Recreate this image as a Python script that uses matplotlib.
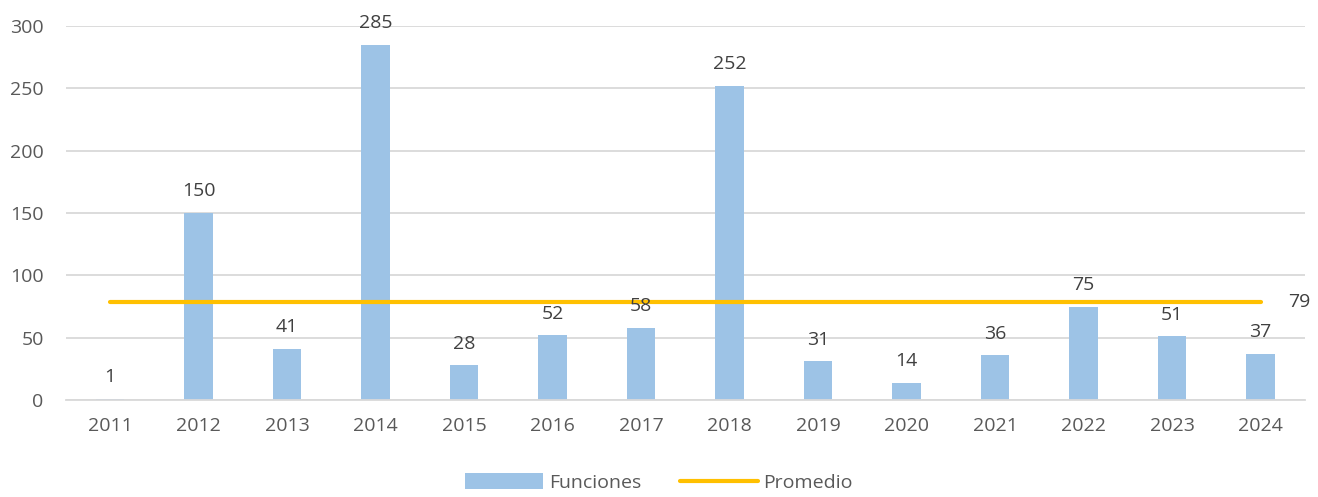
import matplotlib
matplotlib.use('Agg')
import matplotlib.pyplot as plt
import numpy as np

years = ['2011', '2012', '2013', '2014', '2015', '2016', '2017',
         '2018', '2019', '2020', '2021', '2022', '2023', '2024']
funciones = [1, 150, 41, 285, 28, 52, 58, 252, 31, 14, 36, 75, 51, 37]
promedio = 79

bar_color = '#9DC3E6'
line_color = '#FFC000'
text_color = '#595959'

plt.rcParams['font.family'] = ['Open Sans', 'DejaVu Sans']

fig = plt.figure(figsize=(13.18, 4.97), dpi=100)
ax = fig.add_axes([0.050, 0.195, 0.940, 0.753])

x = np.arange(len(years))
bars = ax.bar(x, funciones, width=0.32, color=bar_color, label='Funciones', zorder=2)
line, = ax.plot(x, [promedio] * len(x), color=line_color, lw=3, label='Promedio',
                solid_capstyle='round', zorder=3)

for xi, v in zip(x, funciones):
    ax.annotate(str(v), (xi, v), xytext=(0, 9), textcoords='offset points',
                ha='center', va='bottom', fontsize=14, color='#404040')
ax.annotate(str(promedio), (x[-1], promedio), xytext=(20, 0), textcoords='offset points',
            ha='left', va='center', fontsize=14, color='#404040')

ax.set_xlim(-0.5, len(years) - 0.5)
ax.set_ylim(0, 300)
ax.set_yticks(range(0, 301, 50))
ax.set_xticks(x)
ax.set_xticklabels(years)
ax.yaxis.grid(True, color='#D9D9D9', lw=1.3, zorder=0)
ax.set_axisbelow(True)
for s in ['top', 'right', 'left']:
    ax.spines[s].set_visible(False)
ax.spines['bottom'].set_color('#D9D9D9')
ax.spines['bottom'].set_linewidth(1.3)
ax.tick_params(axis='both', length=0, labelsize=14, labelcolor=text_color)
ax.tick_params(axis='x', pad=12)
ax.tick_params(axis='y', pad=16)

leg = fig.legend([bars, line], ['Funciones', 'Promedio'], loc='lower center',
                 bbox_to_anchor=(0.5, -0.025), ncol=2, frameon=False,
                 fontsize=14, handlelength=4, handleheight=0.9, columnspacing=2,
                 handletextpad=0.3)
for t in leg.get_texts():
    t.set_color(text_color)

fig.savefig('out.png', dpi=100)
